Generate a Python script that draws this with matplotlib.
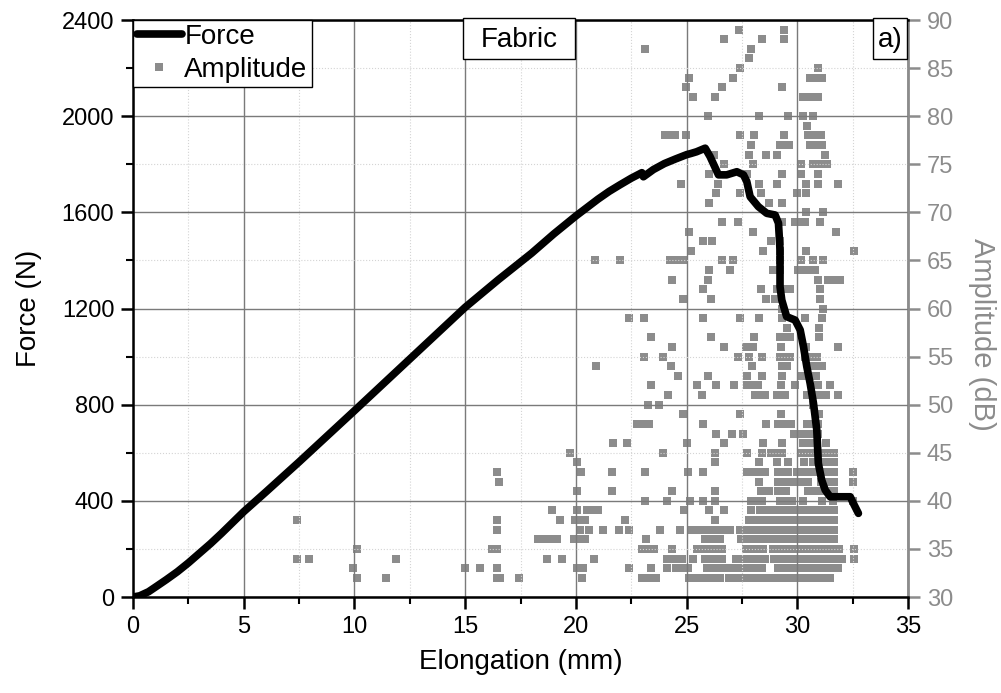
import matplotlib

matplotlib.use("Agg")
import matplotlib.pyplot as plt
from matplotlib.patches import Rectangle
from matplotlib.ticker import MultipleLocator

plt.rcParams["font.family"] = ["Liberation Sans", "DejaVu Sans"]

# Force-elongation curve (mm, N)
force_elong = [0, 0.3, 0.7, 1.07, 1.5, 2.0, 2.5, 3.0, 3.5, 4.0, 4.5, 5.0, 6.0, 7.5, 10.0,
               12.5, 15.0, 16.5, 18.0, 19.0, 20.0, 20.5, 21.0, 21.5, 22.0, 22.5, 22.98,
               23.05, 23.5, 24.0, 24.5, 25.0, 25.2, 25.45, 25.84, 26.06, 26.44, 26.81,
               27.27, 27.57, 27.72, 27.87, 28.24, 28.62, 29.0, 29.15, 29.22, 29.22, 29.3,
               29.52, 29.9, 30.13, 30.28, 30.43, 30.58, 30.73, 30.88, 30.95, 31.1, 31.26,
               31.48, 32.39, 32.53, 32.76]
force_n = [0, 5, 22, 45, 72, 105, 142, 182, 222, 265, 310, 355, 437, 562, 775,
           990, 1205, 1320, 1430, 1510, 1585, 1620, 1655, 1687, 1715, 1742, 1765,
           1748, 1778, 1803, 1822, 1840, 1845, 1852, 1867, 1832, 1756, 1756,
           1769, 1756, 1728, 1665, 1624, 1596, 1589, 1555, 1444, 1291, 1235,
           1166, 1152, 1111, 1041, 958, 889, 806, 695, 556, 487, 445,
           417, 417, 390, 348]

# Acoustic emission hits: amplitude level (dB) and the elongations (mm) where they occur
amp_levels = [32, 33, 34, 35, 36, 37, 38, 39, 40, 41, 42, 43, 44, 45, 46, 47, 48, 49,
              50, 51, 52, 53, 54, 55, 56, 57, 58, 59, 60, 61, 62, 63, 64, 65, 66, 67,
              68, 69, 70, 71, 72, 73, 74, 75, 76, 77, 78, 79, 80, 82, 83, 84, 85, 86,
              87, 88, 89]
amp_elong = [
    [10.13, 11.43, 16.43, 16.58, 17.45, 20.27, 23.0, 23.2, 23.4, 23.6, 25.1, 25.3, 25.5,
     25.7, 25.9, 26.1, 26.3, 26.5, 26.9, 27.1, 27.3, 27.5, 27.7, 27.9, 28.1, 28.3, 28.5,
     28.7, 28.85, 29.15, 29.35, 29.55, 29.75, 29.95, 30.15, 30.35, 30.55, 30.75, 30.95,
     31.2, 31.48],
    [9.92, 14.97, 15.67, 16.43, 20.05, 20.3, 22.4, 23.38, 24.1, 24.5, 24.8, 25.05, 25.9,
     26.15, 26.4, 26.66, 26.95, 27.15, 27.35, 27.55, 27.75, 27.95, 28.15, 28.4, 29.15,
     29.35, 29.55, 29.75, 29.95, 30.15, 30.35, 30.55, 30.75, 30.95, 31.15, 31.35, 31.55,
     31.75, 31.85],
    [7.39, 7.96, 11.88, 18.71, 19.36, 20.82, 24.1, 24.35, 24.55, 24.8, 25.31, 25.85, 26.05,
     26.3, 26.6, 27.25, 27.45, 27.65, 27.85, 28.05, 28.3, 28.55, 28.95, 29.15, 29.35,
     29.55, 29.75, 29.95, 30.15, 30.35, 30.55, 30.75, 30.95, 31.15, 31.35, 31.55, 31.75,
     32.0, 32.54],
    [10.13, 16.2, 16.43, 23.0, 23.3, 23.55, 24.33, 25.46, 25.85, 26.1, 26.35, 26.6, 27.7,
     27.95, 28.15, 28.47, 28.9, 29.1, 29.3, 29.5, 29.7, 29.9, 30.1, 30.3, 30.5, 30.7,
     30.9, 31.1, 31.3, 31.5, 31.7, 31.9, 32.54],
    [18.31, 18.6, 18.85, 19.15, 19.9, 20.15, 20.4, 23.16, 25.85, 26.1, 26.3, 26.5, 27.46,
     27.8, 28.05, 28.3, 28.55, 28.9, 29.1, 29.3, 29.5, 29.7, 29.9, 30.1, 30.3, 30.5, 30.7,
     30.9, 31.1, 31.3, 31.5, 31.65],
    [16.43, 20.19, 20.61, 21.21, 21.95, 22.4, 23.8, 24.68, 25.25, 25.5, 25.8, 26.15, 26.45,
     26.75, 26.97, 27.39, 27.7, 27.9, 28.1, 28.3, 28.5, 28.7, 28.9, 29.1, 29.3, 29.5,
     29.7, 29.9, 30.1, 30.3, 30.5, 30.7, 30.9, 31.1, 31.3, 31.5, 31.65],
    [7.39, 16.43, 19.29, 19.95, 20.2, 20.4, 22.22, 26.29, 27.84, 28.1, 28.3, 28.5, 28.7,
     28.9, 29.1, 29.3, 29.6, 29.9, 30.1, 30.3, 30.5, 30.7, 30.9, 31.1, 31.3, 31.5, 31.65],
    [18.94, 20.04, 20.5, 20.75, 21.0, 24.9, 25.99, 26.69, 27.92, 28.3, 28.6, 28.9, 29.15,
     29.45, 29.75, 29.9, 30.1, 30.3, 30.5, 30.7, 30.9, 31.1, 31.3, 31.5, 31.65],
    [23.1, 24.1, 25.16, 25.73, 26.29, 27.9, 28.15, 28.4, 29.2, 29.5, 29.75, 30.28, 31.1,
     31.63, 32.5],
    [20.04, 21.65, 24.33, 26.29, 28.35, 28.7, 29.15, 29.5, 30.5, 30.75, 31.0, 31.25, 31.45,
     31.65],
    [16.53, 28.29, 29.15, 29.4, 29.65, 29.9, 30.15, 30.5, 31.05, 31.35, 31.65, 32.5],
    [16.43, 20.24, 21.65, 23.1, 25.05, 25.73, 27.72, 27.95, 28.17, 28.56, 29.15, 29.4, 29.6,
     30.0, 30.25, 30.5, 30.75, 31.0, 31.25, 31.45, 31.65, 32.5],
    [20.07, 26.29, 28.29, 29.07, 29.6, 30.32, 30.73, 31.0, 31.25, 31.45, 31.65],
    [19.74, 23.95, 26.29, 27.75, 28.4, 28.8, 29.05, 29.3, 30.2, 30.45, 30.7, 30.95, 31.2,
     31.45, 31.65],
    [21.67, 22.33, 25.0, 26.71, 28.43, 29.33, 30.25, 30.5, 30.73, 31.3],
    [26.33, 27.07, 27.54, 29.86, 30.2, 30.45, 30.65, 30.92],
    [22.75, 23.0, 23.28, 25.76, 28.58, 29.15, 29.4, 29.7, 30.43, 30.7, 30.95],
    [24.86, 27.42, 29.27, 30.99],
    [23.25, 23.77, 30.73],
    [24.18, 25.69, 28.1, 28.35, 28.55, 29.07, 29.3, 29.45, 30.43, 30.65, 30.92, 31.3, 31.83],
    [23.4, 25.45, 26.35, 27.15, 27.72, 28.0, 28.24, 29.25, 29.9, 30.92, 31.48],
    [24.63, 25.96, 27.72, 28.4, 29.3, 30.2, 30.85],
    [20.91, 24.3, 27.97, 29.3, 29.52, 30.65, 30.9, 31.1],
    [23.08, 23.95, 27.31, 27.84, 28.4, 29.22, 29.45, 29.68, 30.35, 30.6, 30.88],
    [24.36, 26.71, 27.69, 28.02, 29.25, 30.4, 31.83],
    [23.38, 26.09, 28.06, 29.22, 29.45, 29.68, 31.0],
    [29.52, 31.0],
    [22.4, 23.08, 25.73, 27.39, 28.29, 29.3, 30.35, 31.1],
    [29.3, 31.18],
    [24.86, 26.11, 28.58, 29.0, 31.03],
    [25.72, 28.37, 29.07, 29.35, 29.65, 31.03],
    [24.33, 25.96, 30.92, 31.4, 31.65, 31.93],
    [25.99, 26.96, 28.89, 29.22, 30.05, 30.3, 30.55, 30.8],
    [20.86, 22.01, 24.23, 24.5, 24.83, 26.59, 27.09, 29.22, 30.17, 30.7, 31.14],
    [25.19, 28.43, 29.22, 30.38, 32.54],
    [25.73, 26.14, 28.8, 29.22],
    [25.13, 28.02, 31.74],
    [26.59, 27.31, 29.3, 29.9, 30.12, 30.35, 31.03],
    [30.38, 31.14],
    [26.02, 28.7, 29.3],
    [26.33, 27.39, 28.35, 29.98, 30.38],
    [24.74, 26.44, 28.29, 29.07, 30.4, 30.92, 31.83],
    [25.99, 27.72, 29.3, 30.17, 30.95],
    [26.69, 28.02, 30.17, 30.7, 31.0, 31.33],
    [26.24, 27.82, 28.58, 29.07, 31.26],
    [27.91, 29.22, 29.45, 29.63, 30.58, 30.85, 31.1],
    [24.03, 24.25, 24.48, 24.96, 27.39, 28.06, 29.4, 30.5, 30.8, 31.08],
    [30.46],
    [25.96, 28.29, 29.6, 30.28, 30.73],
    [25.28, 26.29, 30.28, 30.6, 30.92],
    [24.96, 26.59, 29.3],
    [25.13, 27.09, 30.58, 30.85, 31.1],
    [27.39, 30.92],
    [27.84],
    [23.13, 27.91],
    [26.71, 28.41, 29.42],
    [27.37, 29.42],
]

hit_x, hit_db = [], []
for level, row in zip(amp_levels, amp_elong):
    hit_x.extend(row)
    hit_db.extend([level] * len(row))

GREY = "#8c8c8c"

fig = plt.figure(figsize=(10.01, 6.93), dpi=100)
ax = fig.add_axes([0.1329, 0.1385, 0.7742, 0.8326])
ax2 = ax.twinx()

# amplitude hits on the right axis, force curve drawn above them
amp_line, = ax2.plot(hit_x, hit_db, linestyle="none", marker="s", markersize=5.2,
                     markeredgewidth=0, color=GREY, label="Amplitude")
force_line, = ax.plot(force_elong, force_n, color="black", linewidth=5.5,
                      solid_capstyle="round", solid_joinstyle="round", label="Force")
ax.set_zorder(ax2.get_zorder() + 1)
ax.patch.set_visible(False)

ax.set_xlim(0, 35)
ax.set_ylim(0, 2400)
ax2.set_ylim(30, 90)
ax.xaxis.set_major_locator(MultipleLocator(5))
ax.xaxis.set_minor_locator(MultipleLocator(2.5))
ax.yaxis.set_major_locator(MultipleLocator(400))
ax.yaxis.set_minor_locator(MultipleLocator(200))
ax2.yaxis.set_major_locator(MultipleLocator(5))

ax.grid(which="major", color="#7a7a7a", linewidth=1.0, linestyle="-")
ax.grid(which="minor", color="#d4d4d4", linewidth=0.8, linestyle=":")

for side in ("left", "bottom", "top"):
    ax.spines[side].set_linewidth(1.8)
    ax.spines[side].set_color("black")
ax.spines["right"].set_visible(False)
for side in ("left", "bottom", "top"):
    ax2.spines[side].set_visible(False)
ax2.spines["right"].set_color(GREY)
ax2.spines["right"].set_linewidth(2)

ax.tick_params(which="major", direction="out", length=8.5, width=1.8, labelsize=17)
ax.tick_params(which="minor", direction="out", length=5, width=1.5)
ax.tick_params(axis="x", pad=5)
ax.tick_params(axis="y", pad=5)
ax2.tick_params(axis="y", which="major", direction="out", length=8.5, width=1.8,
                colors=GREY, labelsize=17, pad=5)

ax.set_xlabel("Elongation (mm)", fontsize=20, labelpad=8)
ax.set_ylabel("Force (N)", fontsize=20, labelpad=14)
ax2.set_ylabel("Amplitude (dB)", fontsize=21, color=GREY, rotation=270,
               va="center", ha="center")
ax2.yaxis.set_label_coords(1.096, 0.455)

leg = ax.legend([force_line, amp_line], ["Force", "Amplitude"], loc="upper left",
                bbox_to_anchor=(0, 1), borderaxespad=0, fontsize=20, frameon=True,
                fancybox=False, edgecolor="black", framealpha=1, handlelength=1.6,
                handletextpad=0.1, borderpad=0.15, labelspacing=0.25)
leg.get_frame().set_linewidth(1)

# boxed annotations: "Fabric" at top centre and the panel tag
for x0, x1, label in [(0.4258, 0.5703, "Fabric"), (0.9548, 0.9987, "a)")]:
    ax.add_patch(Rectangle((x0, 0.932), x1 - x0, 0.0715, transform=ax.transAxes,
                           facecolor="white", edgecolor="black", linewidth=1,
                           clip_on=False, zorder=5))
    ax.text((x0 + x1) / 2, 0.966, label, transform=ax.transAxes, ha="center",
            va="center", fontsize=20, zorder=6)

fig.savefig("out.png", dpi=100)
plt.close(fig)
